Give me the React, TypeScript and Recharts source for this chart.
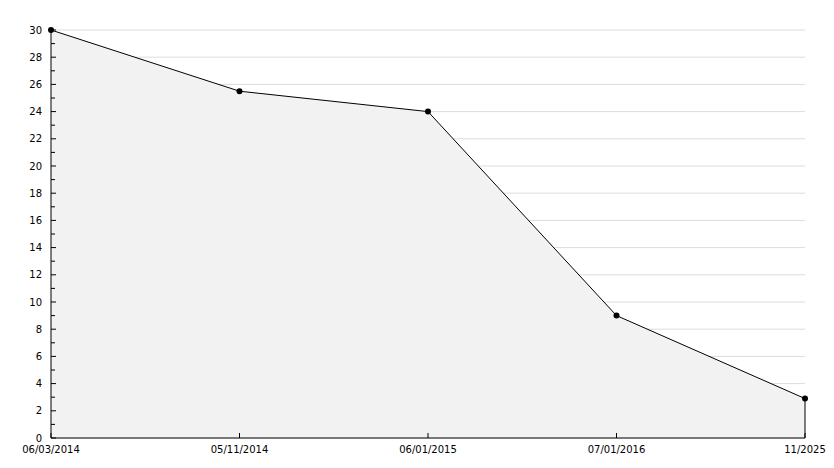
import React from 'react';
import { AreaChart, Area, XAxis, YAxis, CartesianGrid, ReferenceLine } from 'recharts';

const categories = ['06/03/2014', '05/11/2014', '06/01/2015', '07/01/2016', '11/2025'];
const values = [30, 25.5, 24, 9, 2.9];
const yTicks = [0, 1, 2, 3, 4, 5, 6, 7, 8, 9, 10, 11, 12, 13, 14, 15, 16, 17, 18, 19, 20, 21, 22, 23, 24, 25, 26, 27, 28, 29, 30];
const yLabelled = [0, 2, 4, 6, 8, 10, 12, 14, 16, 18, 20, 22, 24, 26, 28, 30];

const data = categories.map((c, i) => ({ date: c, value: values[i] }));

const FONT = '"DejaVu Sans", Verdana, sans-serif';

const YTick = (props: any) => {
  const { x, y, payload } = props;
  const v = payload.value;
  const major = yLabelled.includes(v);
  return (
    <g>
      <line x1={x} y1={y} x2={x + (major ? 5 : 4)} y2={y} stroke="#000" strokeWidth={1} />
      {major && (
        <text x={x - 9} y={y} dy="0.36em" textAnchor="end" fontSize={10} fontFamily={FONT} fill="#000">
          {v}
        </text>
      )}
    </g>
  );
};

const XTick = (props: any) => {
  const { x, y, payload } = props;
  return (
    <g>
      <line x1={x} y1={y} x2={x} y2={y - 5} stroke="#000" strokeWidth={1} />
      <text x={x} y={y + 11} dy="0.36em" textAnchor="middle" fontSize={10} fontFamily={FONT} fill="#000">
        {payload.value}
      </text>
    </g>
  );
};

const Dot = (props: any) => {
  const { cx, cy } = props;
  if (cx == null || cy == null) return null;
  return <circle cx={cx} cy={cy} r={3} fill="#000" stroke="none" />;
};

export default function App() {
  const last = categories[categories.length - 1];
  const lastVal = values[values.length - 1];
  return (
    <div style={{ width: 826, height: 460, background: '#fff' }}>
      <AreaChart width={826} height={460} data={data} margin={{ top: 22, right: 29, bottom: 0, left: 0 }}>
        <CartesianGrid vertical={false} stroke="#dcdcdc" horizontalValues={yLabelled} />
        <Area
          type="linear"
          dataKey="value"
          stroke="#000"
          strokeWidth={1}
          fill="#f2f2f2"
          fillOpacity={1}
          dot={<Dot />}
          activeDot={false}
          isAnimationActive={false}
        />
        <ReferenceLine
          segment={[{ x: last, y: 0 }, { x: last, y: lastVal }]}
          stroke="#000"
          strokeWidth={1}
        />
        <XAxis
          dataKey="date"
          interval={0}
          height={30}
          tickSize={0}
          tickMargin={0}
          tickLine={false}
          axisLine={{ stroke: '#000' }}
          tick={<XTick />}
        />
        <YAxis
          type="number"
          domain={[0, 30]}
          ticks={yTicks}
          interval={0}
          width={43}
          tickSize={0}
          tickMargin={0}
          tickLine={false}
          axisLine={{ stroke: '#000' }}
          tick={<YTick />}
        />
      </AreaChart>
    </div>
  );
}
